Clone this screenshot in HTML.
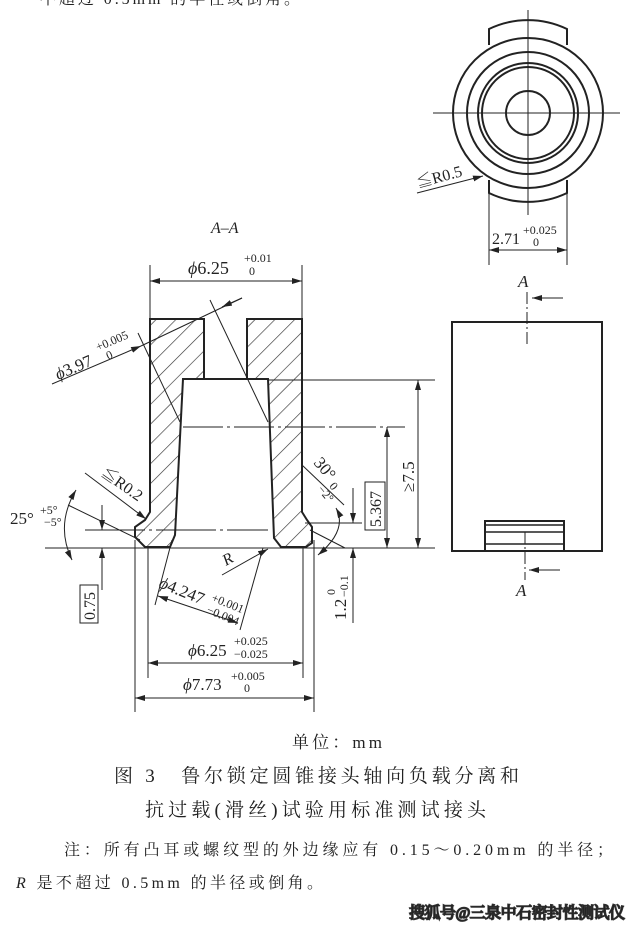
<!DOCTYPE html>
<html><head><meta charset="utf-8"><style>
html,body{margin:0;padding:0;background:#fff;}
svg{display:block;}
text{font-family:"Liberation Serif","Noto Serif CJK SC",serif;fill:#222;}
.cn{font-family:"Liberation Serif","Noto Serif CJK SC",serif;}
</style></head><body>
<svg width="631" height="927" viewBox="0 0 631 927" xmlns="http://www.w3.org/2000/svg">
<defs>
<pattern id="h" patternUnits="userSpaceOnUse" width="14" height="14" patternTransform="rotate(45)">
<line x1="0" y1="0" x2="0" y2="14" stroke="#333" stroke-width="1.3"/>
</pattern>
<marker id="a" viewBox="0 0 10 6" refX="10" refY="3" markerWidth="10" markerHeight="6" orient="auto-start-reverse" markerUnits="userSpaceOnUse">
<path d="M0,0 L10,3 L0,6 z" fill="#222"/>
</marker>
</defs>
<text x="40" y="4" font-size="16" class="cn" textLength="260" lengthAdjust="spacing">不超过 0.5mm 的半径或倒角。</text>

<!-- End view -->
<g stroke="#222" fill="none">
<path d="M489,45 L489,29 A90,90 0 0 1 567,29 L567,45" stroke-width="2"/>
<path d="M489,180 L489,193 A90,90 0 0 0 567,193 L567,180" stroke-width="2"/>
<circle cx="528" cy="113" r="75" stroke-width="2" fill="#fff"/>
<circle cx="528" cy="113" r="61" stroke-width="2"/>
<circle cx="528" cy="113" r="50" stroke-width="2"/>
<circle cx="528" cy="113" r="46" stroke-width="2"/>
<circle cx="528" cy="113" r="22" stroke-width="2"/>
<line x1="528" y1="10" x2="528" y2="215" stroke-width="1"/>
<line x1="433" y1="113" x2="620" y2="113" stroke-width="1"/>
<line x1="489" y1="185" x2="489" y2="265" stroke-width="1"/>
<line x1="567" y1="185" x2="567" y2="265" stroke-width="1"/>
<line x1="489" y1="250" x2="567" y2="250" stroke-width="1" marker-start="url(#a)" marker-end="url(#a)"/>
<line x1="417" y1="193" x2="483" y2="176" stroke-width="1" marker-end="url(#a)"/>
</g>
<text x="418" y="188" font-size="16" transform="rotate(-15 418 188)">≦R0.5</text>
<text x="492" y="244" font-size="16">2.71</text>
<text x="523" y="234" font-size="12">+0.025</text>
<text x="533" y="246" font-size="12">0</text>

<!-- Side view -->
<g stroke="#222" fill="none">
<rect x="452" y="322" width="150" height="229" stroke-width="2"/>
<rect x="485" y="521" width="79" height="30" stroke-width="2"/>
<line x1="485" y1="525" x2="564" y2="525" stroke-width="1.5"/>
<line x1="485" y1="532" x2="564" y2="532" stroke-width="1.5"/>
<line x1="485" y1="544" x2="564" y2="544" stroke-width="1.5"/>
<line x1="527" y1="292" x2="527" y2="345" stroke-width="1" stroke-dasharray="12,3,2,3"/>
<line x1="525" y1="532" x2="525" y2="580" stroke-width="1" stroke-dasharray="12,3,2,3"/>
<line x1="563" y1="298" x2="532" y2="298" marker-end="url(#a)"/>
<line x1="560" y1="570" x2="529" y2="570" marker-end="url(#a)"/>
</g>
<text x="518" y="287" font-size="17" font-style="italic">A</text>
<text x="516" y="596" font-size="17" font-style="italic">A</text>

<!-- Section A-A -->
<text x="211" y="233" font-size="16" font-style="italic">A–A</text>
<g stroke="#222">
<path d="M150,319 L204,319 L204,379 L183,379 L175,535 L170,547 L145,547 L135,537 L135,527 L145,520 L150,512 Z" fill="url(#h)" stroke-width="2"/>
<path d="M247,319 L302,319 L302,512 L307,520 L312,527 L312,543 L306,547 L281,547 L274,538 L268,379 L247,379 Z" fill="url(#h)" stroke-width="2"/>
<line x1="183" y1="379" x2="268" y2="379" stroke-width="2"/>
</g>
<g stroke="#222" fill="none" stroke-width="1">
<line x1="45" y1="548" x2="435" y2="548"/>
<line x1="268" y1="380" x2="435" y2="380"/>
<line x1="183" y1="427" x2="405" y2="427" stroke-dasharray="40,4,3,4"/>
<line x1="85" y1="530" x2="268" y2="530" stroke-dasharray="60,4,3,4"/>
<line x1="305" y1="523" x2="362" y2="523"/>
<line x1="150" y1="265" x2="150" y2="319"/>
<line x1="302" y1="265" x2="302" y2="319"/>
<line x1="150" y1="281" x2="302" y2="281" marker-start="url(#a)" marker-end="url(#a)"/>
<line x1="138" y1="333" x2="180" y2="422"/>
<line x1="210" y1="300" x2="268" y2="422"/>
<line x1="52" y1="384" x2="141" y2="346" marker-end="url(#a)"/>
<line x1="141" y1="346" x2="242" y2="298"/>
<line x1="242" y1="298" x2="222" y2="307" marker-end="url(#a)"/>
<line x1="85" y1="473" x2="146" y2="519" marker-end="url(#a)"/>
<line x1="68" y1="505" x2="140" y2="540"/>
<path d="M76,490 Q55,525 72,560" marker-start="url(#a)" marker-end="url(#a)"/>
<line x1="102" y1="505" x2="102" y2="530" marker-end="url(#a)"/>
<line x1="102" y1="590" x2="102" y2="548" marker-end="url(#a)"/>
<line x1="135" y1="540" x2="135" y2="712"/>
<line x1="148" y1="548" x2="148" y2="678"/>
<line x1="303" y1="548" x2="303" y2="678"/>
<line x1="314" y1="540" x2="314" y2="712"/>
<line x1="148" y1="663" x2="303" y2="663" marker-start="url(#a)" marker-end="url(#a)"/>
<line x1="135" y1="698" x2="314" y2="698" marker-start="url(#a)" marker-end="url(#a)"/>
<line x1="172" y1="540" x2="155" y2="605"/>
<line x1="263" y1="548" x2="240" y2="630"/>
<line x1="158" y1="596" x2="238" y2="623" marker-start="url(#a)" marker-end="url(#a)"/>
<line x1="222" y1="575" x2="268" y2="549" marker-end="url(#a)"/>
<line x1="302" y1="465" x2="344" y2="505"/>
<line x1="310" y1="530" x2="345" y2="548"/>
<path d="M336,508 Q348,530 318,555" marker-start="url(#a)" marker-end="url(#a)"/>
<line x1="353" y1="488" x2="353" y2="523" marker-end="url(#a)"/>
<line x1="353" y1="623" x2="353" y2="548" marker-end="url(#a)"/>
<line x1="387" y1="427" x2="387" y2="548" marker-start="url(#a)" marker-end="url(#a)"/>
<line x1="418" y1="380" x2="418" y2="548" marker-start="url(#a)" marker-end="url(#a)"/>
</g>
<text x="188" y="274" font-size="18"><tspan font-style="italic">ϕ</tspan>6.25</text>
<text x="244" y="262" font-size="12">+0.01</text>
<text x="249" y="275" font-size="12">0</text>
<g transform="rotate(-23 58 380)">
<text x="58" y="380" font-size="17"><tspan font-style="italic">ϕ</tspan>3.97</text>
<text x="106" y="369" font-size="12">+0.005</text>
<text x="112" y="381" font-size="12">0</text>
</g>
<text x="100" y="475" font-size="16" transform="rotate(35 100 475)">≦R0.2</text>
<text x="10" y="524" font-size="17">25°</text>
<text x="40" y="514" font-size="12">+5°</text>
<text x="44" y="526" font-size="12">−5°</text>
<g transform="rotate(-90 94 604)">
<rect x="75" y="590" width="38" height="18" fill="none" stroke="#222"/>
<text x="78" y="605" font-size="16">0.75</text>
</g>
<g transform="rotate(22 158 587)">
<text x="158" y="587" font-size="17"><tspan font-style="italic">ϕ</tspan>4.247</text>
<text x="212" y="580" font-size="12">+0.001</text>
<text x="212" y="593" font-size="12">−0.004</text>
</g>
<text x="226" y="566" font-size="16" font-style="italic" transform="rotate(-30 226 566)">R</text>
<g transform="rotate(50 313 463)">
<text x="313" y="463" font-size="17">30°</text>
<text x="341" y="466" font-size="12">0</text>
<text x="336" y="477" font-size="12">−2°</text>
</g>
<g transform="rotate(-90 346 620)">
<text x="346" y="620" font-size="17">1.2</text>
<text x="371" y="609" font-size="12">0</text>
<text x="369" y="622" font-size="12">−0.1</text>
</g>
<g transform="rotate(-90 382 513)">
<rect x="365" y="496" width="48" height="20" fill="none" stroke="#222"/>
<text x="368" y="512" font-size="16">5.367</text>
</g>
<text x="414" y="492" font-size="17" transform="rotate(-90 414 492)">≥7.5</text>
<text x="188" y="656" font-size="17"><tspan font-style="italic">ϕ</tspan>6.25</text>
<text x="234" y="645" font-size="12">+0.025</text>
<text x="234" y="658" font-size="12">−0.025</text>
<text x="183" y="690" font-size="17"><tspan font-style="italic">ϕ</tspan>7.73</text>
<text x="231" y="680" font-size="12">+0.005</text>
<text x="244" y="692" font-size="12">0</text>

<!-- captions -->
<text x="292" y="748" font-size="17" class="cn" textLength="90" lengthAdjust="spacing">单位：mm</text>
<text x="114" y="782" font-size="19" class="cn" fill="#333" textLength="405" lengthAdjust="spacing">图 3　鲁尔锁定圆锥接头轴向负载分离和</text>
<text x="145" y="816" font-size="19" class="cn" fill="#333" textLength="341" lengthAdjust="spacing">抗过载(滑丝)试验用标准测试接头</text>
<text x="64" y="855" font-size="16" class="cn" fill="#333" textLength="549" lengthAdjust="spacing">注：所有凸耳或螺纹型的外边缘应有 0.15～0.20mm 的半径；</text>
<text x="16" y="888" font-size="16" class="cn" fill="#333" textLength="307" lengthAdjust="spacing"><tspan font-style="italic">R</tspan> 是不超过 0.5mm 的半径或倒角。</text>
<text x="409" y="918" font-size="16" font-family="'Noto Sans CJK SC',sans-serif" fill="#fff" stroke="#333" stroke-width="1.6" paint-order="stroke" textLength="216" lengthAdjust="spacing">搜狐号@三泉中石密封性测试仪</text>
</svg>
</body></html>
